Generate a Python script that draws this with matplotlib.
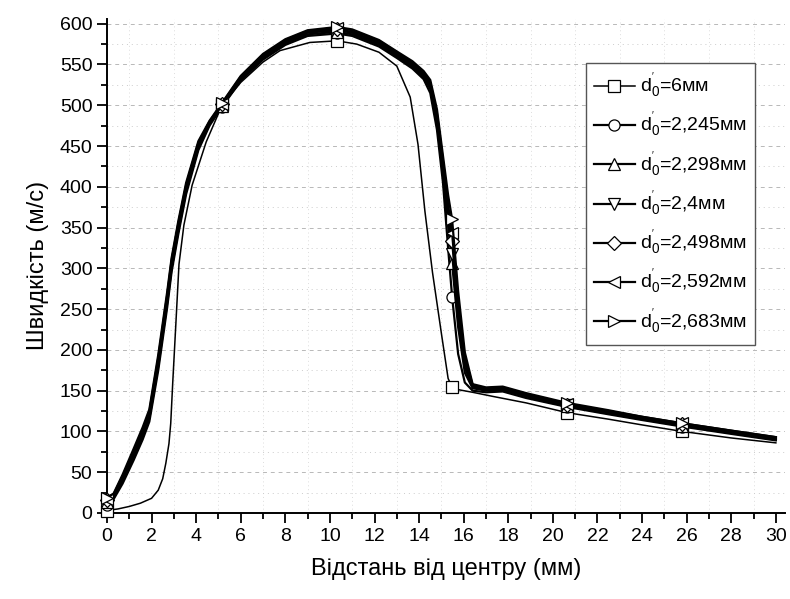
import matplotlib
matplotlib.use("Agg")
import matplotlib.pyplot as plt
from matplotlib.ticker import MultipleLocator

# marker positions along the distance axis (mm)
marker_x = [0, 5.16, 10.32, 15.48, 20.64, 25.8]

# d0 = 6 mm (thin curve)
x_6 = [0, 0.5, 1.0, 1.5, 2.0, 2.3, 2.5, 2.64, 2.78, 2.86, 2.95, 3.09, 3.23, 3.45, 3.82,
       4.45, 5.16, 6.0, 7.0, 7.76, 9.1, 10.32, 11.2, 12.2, 13.0, 13.6, 13.95, 14.26,
       14.6, 15.0, 15.3, 15.48, 15.8, 16.4, 17.3, 18.8, 20.64, 22.5, 24.0, 25.8, 28.0, 30.0]
v_6 = [3, 5, 8, 12, 18, 28, 42, 61, 85, 110, 160, 232, 305, 353, 402,
       455, 500, 528, 553, 567, 577, 579, 575, 565, 548, 510, 452, 370,
       295, 220, 165, 154, 151, 148, 143, 135, 123, 115, 108, 100, 92, 86]

# other nozzle diameters share one distance grid
x_d = [0, 0.3, 0.7, 1.2, 1.6, 1.9, 2.3, 2.7, 2.9, 3.2, 3.55, 4.1, 4.6, 5.16, 6.0, 7.0,
       8.0, 9.0, 10.32, 11.0, 12.2, 13.0, 13.7, 14.2, 14.5, 14.8, 15.07, 15.3, 15.48,
       15.75, 16.05, 16.4, 17.0, 17.75, 18.8, 20.64, 22.5, 24.0, 25.8, 28.0, 30.0]
v_2245 = [10, 17, 36, 65, 90, 112, 175, 252, 296, 342, 391, 445, 475, 498, 530, 556,
          574, 585, 588, 585, 572, 558, 545, 532, 515, 470, 405, 325, 265,
          195, 160, 150, 148, 149, 141, 130, 121, 114, 106, 97, 89]
v_2298 = [13, 19, 39, 68, 94, 116, 180, 257, 300, 346, 395, 448, 477, 499, 532, 558,
          576, 587, 590, 587, 574, 560, 547, 535, 520, 478, 418, 352, 306,
          228, 172, 153, 150, 151, 143, 131, 122, 115, 107, 98, 90]
v_24 = [15, 21, 41, 71, 97, 119, 184, 261, 304, 350, 398, 450, 478, 500, 533, 560,
        578, 589, 592, 589, 576, 562, 549, 537, 523, 483, 424, 362, 318,
        238, 178, 155, 151, 152, 144, 132, 123, 116, 108, 99, 91]
v_2498 = [16, 22, 43, 73, 99, 121, 187, 264, 307, 352, 400, 452, 479, 501, 534, 561,
          579, 590, 593, 590, 577, 563, 550, 538, 525, 486, 428, 370, 333,
          250, 184, 156, 152, 153, 145, 133, 124, 117, 109, 100, 92]
v_2592 = [17, 23, 45, 76, 102, 124, 190, 267, 310, 355, 402, 454, 480, 502, 535, 562,
          580, 591, 595, 592, 579, 565, 552, 540, 528, 490, 432, 378, 343,
          258, 190, 157, 153, 154, 146, 134, 125, 118, 110, 101, 93]
v_2683 = [18, 24, 47, 79, 105, 127, 194, 271, 313, 358, 405, 456, 481, 503, 536, 563,
          581, 592, 596, 593, 580, 566, 554, 542, 531, 495, 438, 390, 360,
          272, 197, 158, 154, 155, 147, 135, 126, 118, 110, 101, 93]

labels = ["6", "2,245", "2,298", "2,4", "2,498", "2,592", "2,683"]
markers = ["s", "o", "^", "v", "D", "<", ">"]

plt.rcParams["font.family"] = ["Liberation Sans", "DejaVu Sans"]
plt.rcParams["mathtext.fontset"] = "custom"
plt.rcParams["mathtext.rm"] = "Liberation Sans"
plt.rcParams["mathtext.it"] = "Liberation Sans"


def mark_idx(xs):
    # indices of the points that carry a marker
    return [i for i, x in enumerate(xs) if x in marker_x]


fig = plt.figure(figsize=(7.9, 5.99), dpi=100)
ax = fig.add_axes([0.1354, 0.1436, 0.858, 0.825])

series = [(x_6, v_6), (x_d, v_2245), (x_d, v_2298), (x_d, v_24),
          (x_d, v_2498), (x_d, v_2592), (x_d, v_2683)]

for (xs, ys), lab, m in zip(series, labels, markers):
    lw = 1.1 if lab == "6" else 1.6
    ms = 7 if m == "D" else 8
    ax.plot(xs, ys, color="black", lw=lw, marker=m, markevery=mark_idx(xs),
            ms=ms, mfc="white", mec="black", mew=0.9, clip_on=False, zorder=3,
            label="d$_0^{'}$=" + lab + "мм")

ax.set_xlim(0, 30.4)
ax.set_ylim(0, 606)
ax.xaxis.set_major_locator(MultipleLocator(2))
ax.xaxis.set_minor_locator(MultipleLocator(1))
ax.yaxis.set_major_locator(MultipleLocator(50))
ax.yaxis.set_minor_locator(MultipleLocator(25))

# grid: dashed at major y ticks, dotted at minor ones, faint verticals on odd mm
ax.grid(axis="y", which="major", color="#b8b8b8", ls=(0, (4, 4)), lw=0.7)
ax.grid(axis="y", which="minor", color="#cccccc", ls=(0, (1, 4)), lw=0.7)
ax.grid(axis="x", which="minor", color="#dddddd", ls=(0, (1, 3)), lw=0.7)

for s in ["top", "right"]:
    ax.spines[s].set_visible(False)
for s in ["left", "bottom"]:
    ax.spines[s].set_linewidth(1.4)

ax.tick_params(which="major", length=7, width=1.3, labelsize=14, direction="out")
ax.tick_params(which="minor", length=4, width=1.3, direction="out")

ax.set_xlabel("Відстань від центру (мм)", fontsize=17, labelpad=10)
ax.set_ylabel("Швидкість (м/с)", fontsize=17, labelpad=8)

leg = ax.legend(loc="upper right", bbox_to_anchor=(0.956, 0.911), borderaxespad=0,
                fontsize=14, fancybox=False, edgecolor="#555555", framealpha=1,
                handlelength=2.1, handletextpad=0.3, labelspacing=0.45,
                borderpad=0.4)
leg.get_frame().set_linewidth(1.0)

fig.savefig("out.png", dpi=100)
